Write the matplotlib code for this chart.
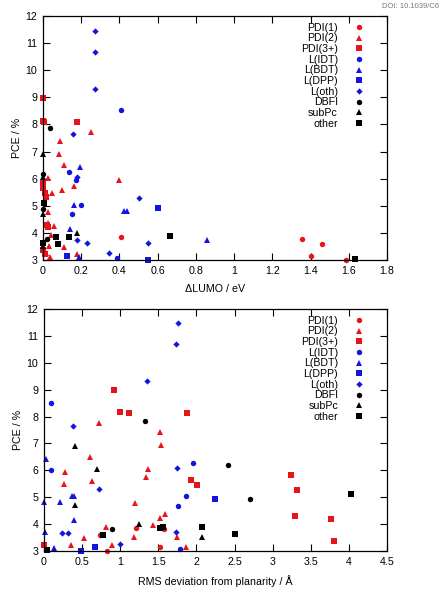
import matplotlib
matplotlib.use('Agg')
import matplotlib.pyplot as plt

plt.rcParams['font.family'] = ['Liberation Sans', 'DejaVu Sans']

RED = '#e8141c'
BLUE = '#1414e0'
BLACK = '#000000'

# series: name, colour, marker
series = [
  ('PDI(1)', RED, 'o'),
  ('PDI(2)', RED, '^'),
  ('PDI(3+)', RED, 's'),
  ('L(IDT)', BLUE, 'o'),
  ('L(BDT)', BLUE, '^'),
  ('L(DPP)', BLUE, 's'),
  ('L(oth)', BLUE, 'D'),
  ('DBFI', BLACK, 'o'),
  ('subPc', BLACK, '^'),
  ('other', BLACK, 's'),
]

# top panel: delta LUMO (eV) vs PCE (%)
lumo_x = {
  'PDI(1)': [0.41, 1.357, 1.46, 1.40, 1.585],
  'PDI(2)': [0.09, 0.252, 0.085, 0.11, 0.026, 0.398, 0.162, 0.098, 0.049, 0.025,
             0.028, 0.06, 0.042, 0.033, 0.11, 0.176, 0.014, 0.037],
  'PDI(3+)': [0.0, 0.0, 0.007, 0.18, 0.0, 0.0, 0.01, 0.014, 0.02, 0.025, 0.0, 0.01],
  'L(IDT)': [0.41, 0.134, 0.175, 0.2, 0.15, 0.388],
  'L(BDT)': [0.194, 0.16, 0.425, 0.44, 0.14, 0.86, 0.19],
  'L(DPP)': [0.60, 0.55, 0.124],
  'L(oth)': [0.273, 0.273, 0.273, 0.157, 0.18, 0.50, 0.229, 0.55, 0.18, 0.347],
  'DBFI': [0.037, 0.0, 0.0, 0.02],
  'subPc': [0.0, 0.0, 0.0, 0.18, 0.0],
  'other': [0.007, 0.07, 0.077, 0.138, 0.665, 0.0, 1.63],
}
lumo_y = {
  'PDI(1)': [3.86, 3.79, 3.59, 3.16, 3.0],
  'PDI(2)': [7.40, 7.71, 6.91, 6.50, 6.04, 5.95, 5.74, 5.58, 5.48, 4.78,
             4.35, 4.25, 3.92, 3.52, 3.49, 3.22, 3.25, 3.12],
  'PDI(3+)': [8.97, 8.14, 8.10, 8.09, 5.83, 5.65, 5.46, 5.31, 4.29, 4.20, 3.37, 3.22],
  'L(IDT)': [8.52, 6.24, 5.96, 5.03, 4.70, 3.06],
  'L(BDT)': [6.42, 5.03, 4.81, 4.81, 4.13, 3.73, 3.10],
  'L(DPP)': [4.93, 3.0, 3.15],
  'L(oth)': [11.46, 10.67, 9.30, 7.63, 6.06, 5.28, 3.64, 3.64, 3.74, 3.25],
  'DBFI': [7.86, 6.17, 4.88, 3.79],
  'subPc': [6.90, 6.07, 4.70, 4.0, 3.52],
  'other': [5.09, 3.86, 3.59, 3.86, 3.89, 3.64, 3.05],
}

# bottom panel: RMS deviation from planarity (A) vs PCE (%)
rms_x = {
  'PDI(1)': [1.21, 1.58, 0.74, 1.52, 0.83],
  'PDI(2)': [0.726, 1.52, 1.53, 0.60, 0.28, 1.365, 0.63, 0.257, 1.335, 1.20,
             1.59, 1.52, 1.43, 0.81, 0.36, 0.53, 1.18, 0.89, 1.75, 1.86],
  'PDI(3+)': [0.92, 1.0, 1.12, 1.88, 1.93, 2.01, 3.24, 3.32, 3.29, 3.76, 3.81, 0.0],
  'L(IDT)': [0.087, 0.087, 1.96, 1.86, 1.76, 1.78],
  'L(BDT)': [0.02, 0.0, 0.205, 0.37, 0.40, 0.40, 0.01, 0.13],
  'L(DPP)': [2.24, 0.49, 0.67],
  'L(oth)': [1.76, 1.73, 1.35, 0.38, 1.75, 0.72, 0.235, 0.32, 1.73, 1.0],
  'DBFI': [1.33, 2.41, 2.70, 0.89],
  'subPc': [0.41, 0.69, 0.41, 1.25, 2.07],
  'other': [0.77, 1.52, 1.56, 2.07, 2.51, 4.03, 0.04],
}
rms_y = {
  'PDI(1)': [3.87, 3.81, 3.60, 3.16, 3.0],
  'PDI(2)': [7.75, 7.43, 6.94, 6.50, 5.95, 6.04, 5.61, 5.49, 5.76, 4.80,
             4.38, 4.24, 3.97, 3.90, 3.22, 3.47, 3.53, 3.22, 3.51, 3.14],
  'PDI(3+)': [8.98, 8.18, 8.12, 8.12, 5.64, 5.45, 5.83, 5.27, 4.30, 4.20, 3.37, 3.22],
  'L(IDT)': [8.52, 6.01, 6.26, 5.03, 4.68, 3.06],
  'L(BDT)': [6.41, 4.83, 4.83, 5.04, 5.04, 4.15, 3.72, 3.10],
  'L(DPP)': [4.95, 3.01, 3.16],
  'L(oth)': [11.48, 10.68, 9.31, 7.64, 6.07, 5.29, 3.66, 3.66, 3.72, 3.26],
  'DBFI': [7.85, 6.20, 4.92, 3.81],
  'subPc': [6.90, 6.05, 4.71, 4.0, 3.52],
  'other': [3.60, 3.87, 3.90, 3.90, 3.62, 5.11, 3.04],
}

msize = {'o': 3.9, '^': 4.5, 's': 3.9, 'D': 3.2}
fs = 7.7


def panel(ax, xs, ys, xmax, xstep, xlabel):
  for name, col, mk in series:
    ax.plot(xs[name], ys[name], linestyle='none', marker=mk, color=col,
            markersize=msize[mk], markeredgewidth=0, label=name, clip_on=False)
  n = int(round(xmax / xstep))
  ax.set_xlim(0, xmax)
  ax.set_ylim(3, 12)
  ax.set_xticks([i * xstep for i in range(n + 1)])
  ax.set_xticklabels(['%g' % (i * xstep) for i in range(n + 1)])
  ax.set_yticks(range(3, 13))
  ax.tick_params(direction='in', top=True, right=True, length=5, width=0.8,
                 labelsize=fs, pad=4)
  for s in ax.spines.values():
    s.set_linewidth(0.9)
  ax.set_xlabel(xlabel, fontsize=fs, labelpad=6)
  ax.set_ylabel('PCE / %', fontsize=fs, labelpad=3)
  leg = ax.legend(loc='upper right', bbox_to_anchor=(0.935, 0.972),
                  frameon=False, markerfirst=False, fontsize=fs,
                  handlelength=1.0, handletextpad=1.5, labelspacing=0.06,
                  borderpad=0, borderaxespad=0, numpoints=1)
  return leg


fig = plt.figure(figsize=(4.41, 5.92), dpi=100)
ax1 = fig.add_axes([43 / 441, 1 - 260 / 592, 344 / 441, 244 / 592])
ax2 = fig.add_axes([44 / 441, 1 - 551 / 592, 343 / 441, 242 / 592])

panel(ax1, lumo_x, lumo_y, 1.8, 0.2, '\u0394LUMO / eV')
panel(ax2, rms_x, rms_y, 4.5, 0.5, 'RMS deviation from planarity / \u00c5')

fig.text(439 / 441, 1 - 6 / 592, 'DOI: 10.1039/C6', fontsize=5.5,
         color='#777777', ha='right', va='center')

fig.savefig('out.png', dpi=100)
